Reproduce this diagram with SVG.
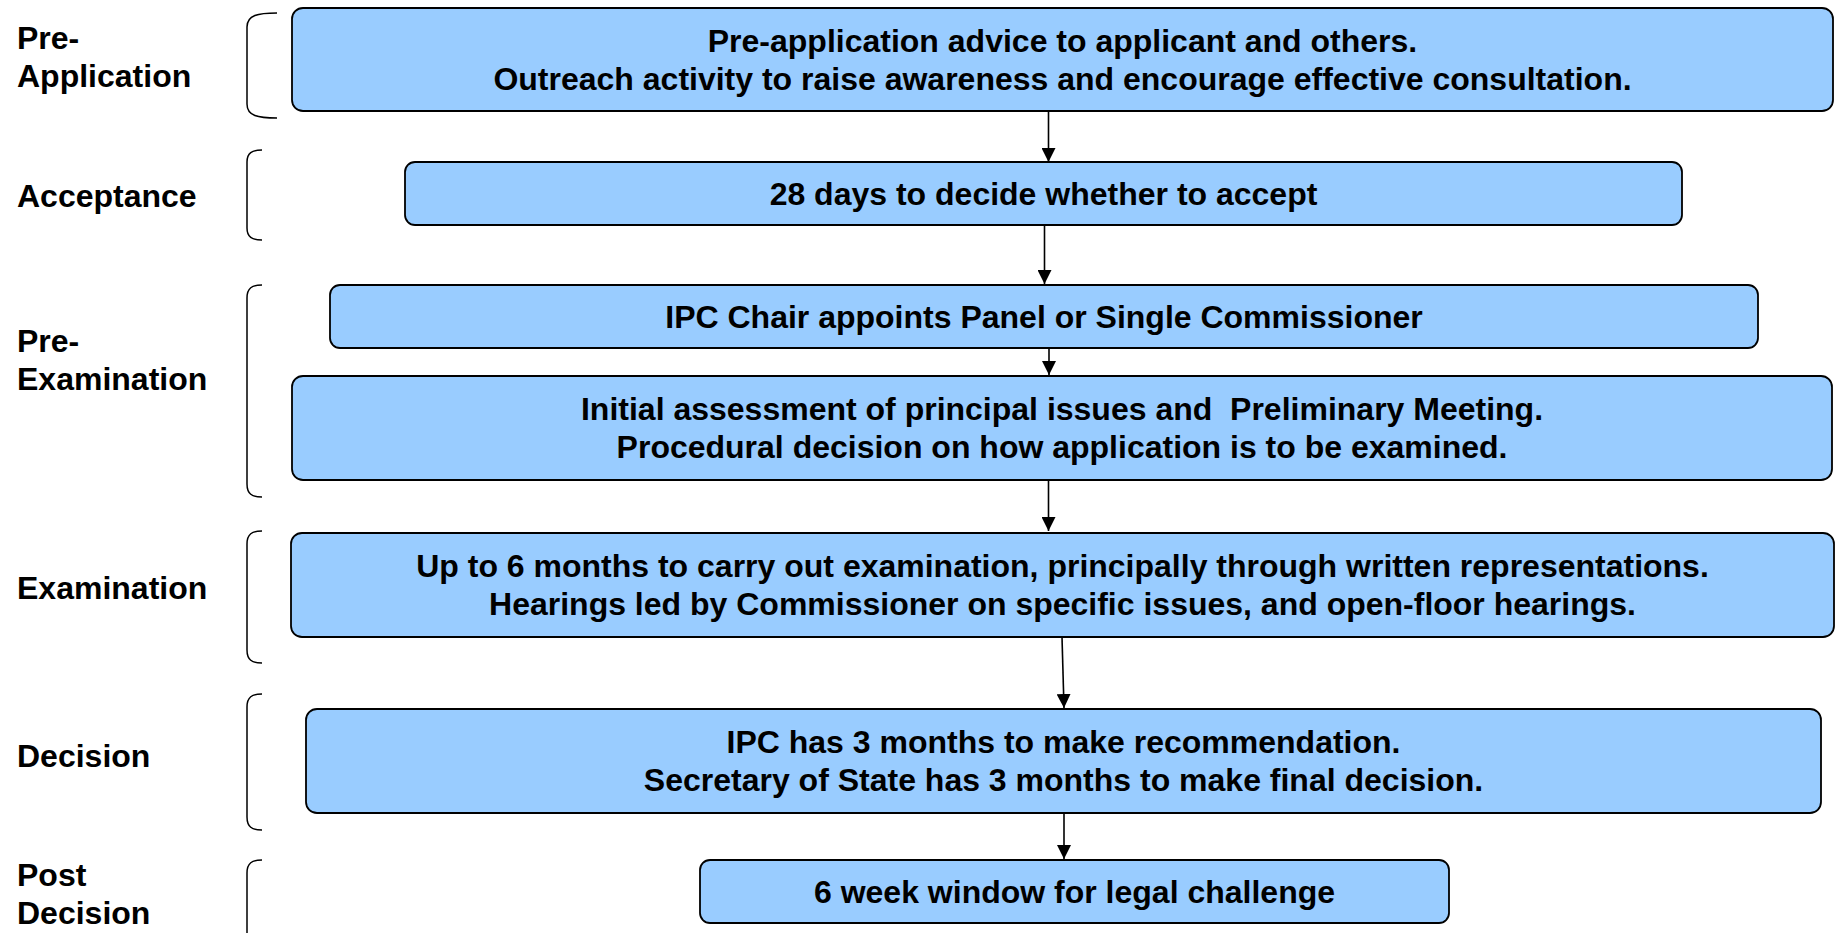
<svg xmlns="http://www.w3.org/2000/svg" width="1838" height="933" viewBox="0 0 1838 933">
<style>
  .box { fill: #99CCFF; stroke: #000; stroke-width: 1.8; }
  .t { font-family: "Liberation Sans", Arial, Helvetica, sans-serif; font-weight: bold; font-size: 32px; fill: #000; text-anchor: middle; white-space: pre; }
  .lbl { font-family: "Liberation Sans", Arial, Helvetica, sans-serif; font-weight: bold; font-size: 32px; fill: #000; }
  .br { fill: none; stroke: #000; stroke-width: 1.5; }
  .con { fill: none; stroke: #000; stroke-width: 1.6; marker-end: url(#ah); }
</style>
<defs>
  <marker id="ah" viewBox="0 0 14 14" refX="14" refY="7" markerWidth="14" markerHeight="14" markerUnits="userSpaceOnUse" orient="auto">
    <path d="M0,0 L14,7 L0,14 z" fill="#000"/>
  </marker>
</defs>
<rect width="1838" height="933" fill="#fff"/>

<g id="labels">
  <g id="lbl-preapp"><text class="lbl" x="17" y="49">Pre-</text><text class="lbl" x="17" y="87">Application</text></g>
  <g id="lbl-accept"><text class="lbl" x="17" y="207">Acceptance</text></g>
  <g id="lbl-preexam"><text class="lbl" x="17" y="352">Pre-</text><text class="lbl" x="17" y="390">Examination</text></g>
  <g id="lbl-exam"><text class="lbl" x="17" y="599">Examination</text></g>
  <g id="lbl-decision"><text class="lbl" x="17" y="767">Decision</text></g>
  <g id="lbl-post"><text class="lbl" x="17" y="886">Post</text><text class="lbl" x="17" y="924">Decision</text></g>
</g>

<g id="brackets">
  <path class="br" d="M277,13 C258,13 247,15 247,27 V104 C247,116 258,118 277,118"/>
  <path class="br" d="M262,150 C252,150 247,153 247,162 V228 C247,237 252,240 262,240"/>
  <path class="br" d="M262,285 C252,285 247,288 247,298 V484 C247,494 252,497 262,497"/>
  <path class="br" d="M262,531 C252,531 247,534 247,544 V650 C247,660 252,663 262,663"/>
  <path class="br" d="M262,694 C252,694 247,697 247,707 V817 C247,827 252,830 262,830"/>
  <path class="br" d="M262,860 C252,860 247,863 247,873 V933"/>
</g>

<g id="connectors">
  <path class="con" d="M1048.5,111 L1048.5,162"/>
  <path class="con" d="M1044.5,225 L1044.5,284"/>
  <path class="con" d="M1049,348 L1049,375"/>
  <path class="con" d="M1048.5,480 L1048.5,531"/>
  <path class="con" d="M1062,637 L1064,708"/>
  <path class="con" d="M1064,813 L1064,859"/>
</g>

<g id="node-preapp">
  <rect class="box" x="292" y="8" width="1541" height="103" rx="11"/>
  <text class="t" x="1062.5" y="52">Pre-application advice to applicant and others.</text>
  <text class="t" x="1062.5" y="90">Outreach activity to raise awareness and encourage effective consultation.</text>
</g>
<g id="node-accept">
  <rect class="box" x="405" y="162" width="1277" height="63" rx="10"/>
  <text class="t" x="1043.5" y="205">28 days to decide whether to accept</text>
</g>
<g id="node-chair">
  <rect class="box" x="330" y="285" width="1428" height="63" rx="10"/>
  <text class="t" x="1044" y="328">IPC Chair appoints Panel or Single Commissioner</text>
</g>
<g id="node-initial">
  <rect class="box" x="292" y="376" width="1540" height="104" rx="11"/>
  <text class="t" x="1062" y="420">Initial assessment of principal issues and  Preliminary Meeting.</text>
  <text class="t" x="1062" y="458">Procedural decision on how application is to be examined.</text>
</g>
<g id="node-exam">
  <rect class="box" x="291" y="533" width="1543" height="104" rx="11"/>
  <text class="t" x="1062.5" y="577">Up to 6 months to carry out examination, principally through written representations.</text>
  <text class="t" x="1062.5" y="615">Hearings led by Commissioner on specific issues, and open-floor hearings.</text>
</g>
<g id="node-decision">
  <rect class="box" x="306" y="709" width="1515" height="104" rx="11"/>
  <text class="t" x="1063.5" y="753">IPC has 3 months to make recommendation.</text>
  <text class="t" x="1063.5" y="791">Secretary of State has 3 months to make final decision.</text>
</g>
<g id="node-post">
  <rect class="box" x="700" y="860" width="749" height="63" rx="10"/>
  <text class="t" x="1074.5" y="903">6 week window for legal challenge</text>
</g>
</svg>
